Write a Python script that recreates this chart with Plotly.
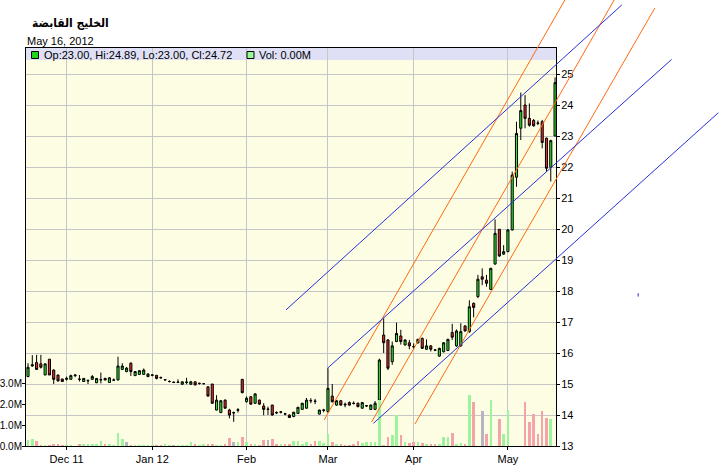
import plotly.graph_objects as go

# ---------------- data ----------------
title_text = "الخليج القابضة"
date_text = "May 16, 2012"
legend_price = "Op:23.00, Hi:24.89, Lo:23.00, Cl:24.72"
legend_vol = "Vol: 0.00M"

opens = [15.24, 15.58, 15.69, 15.65, 15.29, 15.80, 15.45, 15.29, 15.16, 15.15,
         15.15, 15.27, 15.16, 15.08, 15.10, 15.15, 15.04, 15.13, 15.18, 15.05,
         15.12, 15.13, 15.47, 15.40, 15.67, 15.27, 15.31, 15.31, 15.24, 15.28,
         15.28, 15.21, 15.13, 15.08, 15.06, 15.05, 14.99, 15.05, 14.99, 15.07,
         15.02, 15.01, 14.91, 15.00, 14.16, 14.08, 14.48, 14.16, 14.08, 14.15,
         15.15, 14.43, 14.59, 14.38, 14.48, 14.29, 14.18, 14.32, 14.08, 14.09,
         14.04, 14.00, 13.95, 14.05, 14.18, 14.22, 14.47, 14.45, 14.03, 14.15,
         14.11, 14.61, 14.32, 14.46, 14.35, 14.40, 14.38, 14.38, 14.22, 14.29,
         14.18, 14.18, 14.48, 16.58, 16.42, 15.72, 16.37, 16.55, 16.26, 16.33,
         16.21, 16.33, 16.47, 16.12, 16.23, 16.10, 15.90, 16.04, 16.08, 16.66,
         16.23, 16.23, 16.87, 16.69, 17.60, 17.82, 18.46, 18.35, 18.05, 18.87,
         19.99, 19.19, 19.27, 19.97, 21.67, 23.25, 24.00, 23.57, 23.50, 23.42,
         23.46, 22.93, 21.99, 23.00]
highs = [15.67, 15.93, 15.94, 15.94, 15.66, 15.80, 15.47, 15.30, 15.17, 15.24,
         15.30, 15.30, 15.29, 15.19, 15.15, 15.29, 15.19, 15.37, 15.20, 15.22,
         15.18, 15.88, 15.67, 15.55, 15.70, 15.41, 15.44, 15.50, 15.35, 15.32,
         15.29, 15.24, 15.16, 15.12, 15.08, 15.15, 15.08, 15.20, 15.10, 15.08,
         15.04, 15.03, 14.92, 15.00, 14.64, 14.48, 14.50, 14.20, 14.11, 14.22,
         15.16, 14.60, 14.60, 14.70, 14.50, 14.38, 14.27, 14.33, 14.12, 14.13,
         14.07, 14.02, 14.10, 14.26, 14.39, 14.55, 14.54, 14.52, 14.17, 14.20,
         15.51, 15.00, 14.48, 14.48, 14.40, 14.44, 14.44, 14.40, 14.42, 14.32,
         14.34, 14.45, 15.82, 17.12, 16.45, 16.37, 16.98, 16.75, 16.44, 16.42,
         16.31, 16.46, 16.50, 16.44, 16.25, 16.13, 16.17, 16.35, 16.46, 16.94,
         16.76, 16.96, 16.90, 17.70, 17.63, 18.52, 18.73, 18.52, 18.75, 20.31,
         20.00, 19.48, 20.00, 21.85, 23.46, 24.40, 24.32, 24.05, 23.55, 23.50,
         23.52, 22.95, 22.88, 24.89]
lows = [15.22, 15.56, 15.47, 15.50, 15.29, 15.29, 15.00, 15.08, 15.07, 15.11,
        15.14, 15.22, 15.08, 15.07, 15.00, 15.13, 15.03, 15.02, 15.12, 15.04,
        15.10, 15.12, 15.45, 15.38, 15.26, 15.26, 15.30, 15.30, 15.22, 15.25,
        15.15, 15.18, 15.11, 15.05, 15.03, 15.03, 14.98, 14.99, 14.98, 14.96,
        14.98, 14.99, 14.60, 14.36, 14.15, 14.06, 14.20, 13.89, 13.78, 14.08,
        14.70, 14.40, 14.33, 14.36, 14.33, 13.99, 14.00, 13.98, 14.03, 14.05,
        13.99, 13.90, 13.93, 14.04, 14.17, 14.20, 14.38, 14.35, 14.02, 14.09,
        14.08, 14.40, 14.30, 14.30, 14.25, 14.30, 14.34, 14.25, 14.20, 14.26,
        14.16, 14.16, 14.45, 16.00, 15.45, 15.62, 16.35, 16.27, 16.24, 16.12,
        16.12, 16.30, 16.13, 16.10, 16.05, 16.06, 15.88, 16.02, 16.06, 16.42,
        16.20, 16.20, 16.69, 16.65, 17.15, 17.77, 18.19, 18.14, 18.03, 18.85,
        19.10, 19.16, 19.25, 19.95, 21.36, 22.87, 23.25, 23.30, 23.30, 23.35,
        22.60, 21.85, 21.53, 23.00]
closes = [15.54, 15.62, 15.47, 15.54, 15.65, 15.29, 15.15, 15.10, 15.08, 15.18,
          15.27, 15.29, 15.15, 15.18, 15.11, 15.24, 15.18, 15.14, 15.13, 15.20,
          15.13, 15.58, 15.58, 15.51, 15.40, 15.40, 15.43, 15.45, 15.32, 15.29,
          15.18, 15.20, 15.14, 15.08, 15.05, 15.06, 15.07, 15.06, 15.07, 14.97,
          15.02, 15.01, 14.61, 14.38, 14.48, 14.46, 14.22, 14.00, 14.07, 14.17,
          14.72, 14.54, 14.35, 14.68, 14.35, 14.18, 14.19, 14.00, 14.07, 14.10,
          14.03, 13.92, 14.09, 14.25, 14.38, 14.48, 14.46, 14.44, 14.16, 14.16,
          14.86, 14.43, 14.46, 14.32, 14.33, 14.32, 14.37, 14.27, 14.40, 14.30,
          14.32, 14.38, 15.77, 16.33, 15.51, 16.23, 16.63, 16.37, 16.42, 16.23,
          16.20, 16.44, 16.15, 16.23, 16.12, 16.09, 16.15, 16.33, 16.44, 16.51,
          16.71, 16.69, 16.71, 17.49, 17.47, 18.38, 18.38, 18.25, 18.73, 19.86,
          19.13, 19.27, 19.97, 21.74, 23.08, 23.82, 23.57, 23.35, 23.33, 23.41,
          22.79, 21.96, 22.85, 24.72]
volumes_m = [0.27, 0.32, 0.24, 0.05, 0.03, 0.03, 0.08, 0.08, 0.05, 0.05,
             0.05, 0.02, 0.08, 0.10, 0.10, 0.11, 0.11, 0.24, 0.10, 0.10,
             0.05, 0.63, 0.35, 0.19, 0.05, 0.03, 0.03, 0.03, 0.03, 0.05,
             0.05, 0.05, 0.08, 0.05, 0.05, 0.05, 0.05, 0.03, 0.19, 0.08,
             0.05, 0.08, 0.11, 0.08, 0.05, 0.03, 0.08, 0.40, 0.20, 0.19,
             0.45, 0.19, 0.08, 0.08, 0.05, 0.30, 0.27, 0.36, 0.08, 0.08,
             0.08, 0.11, 0.23, 0.23, 0.11, 0.19, 0.11, 0.26, 0.26, 0.16,
             0.58, 0.19, 0.08, 0.08, 0.05, 0.05, 0.08, 0.23, 0.13, 0.20,
             0.20, 0.20, 2.22, 0.05, 0.45, 0.53, 1.50, 0.53, 0.20, 0.16,
             0.20, 0.20, 0.16, 0.12, 0.12, 0.10, 0.12, 0.45, 0.45, 0.64,
             0.12, 0.16, 0.12, 2.46, 2.14, 0.00, 1.70, 0.58, 2.22, 0.00,
             1.30, 0.60, 1.74, 0.00, 0.00, 0.00, 2.14, 1.14, 1.55, 0.58,
             1.70, 1.37, 1.30, 0.00]
flat_volume_days = [24, 35, 49, 57, 107]   # 1-based, grey volume bars

month_pos = [9, 29, 51, 70, 90, 112]
month_labels = ["Dec 11", "Jan 12", "Feb", "Mar", "Apr", "May"]
price_ticks = list(range(13, 26))
vol_ticks = [0, 1, 2, 3]
vol_tick_labels = ["0.0M", "1.0M", "2.0M", "3.0M"]

# trend lines: (index, price) endpoints
blue_lines = [((60.2, 17.39), (138.6, 27.23)),
              ((69.9, 15.51), (150.2, 25.47)),
              ((80.6, 13.73), (161.1, 23.75)),
              ((142.4, 17.93), (142.4, 17.82))]
orange_lines = [((69.1, 13.84), (125.3, 27.39)),
                ((80.2, 13.78), (136.8, 27.39)),
                ((90.3, 13.71), (146.3, 27.13))]

# ---------------- layout geometry ----------------
W, H = 726, 475
PL, PR, PT, PB = 26, 556, 48, 446          # plot frame in pixels
x_range = [-0.47, 123.22]
y_range = [13, 13 + (PB - PT) / 31.0]
vol_range = [0, (PB - PT) / 20.7]

sx = (x_range[1] - x_range[0]) / (PR - PL)
sy = (y_range[1] - y_range[0]) / (PB - PT)
x2_range = [x_range[0] - PL * sx, x_range[1] + (W - PR) * sx]
y2_range = [y_range[0] - (H - PB) * sy, y_range[1] + PT * sy]

n = len(opens)
xs = list(range(n))

GREEN = "#2ee82e"
RED = "#e82c2c"
VG, VR, VN = "#9cf59c", "#f5a3aa", "#b6b6c0"
vol_colors = []
for i in range(n):
    if (i + 1) in flat_volume_days:
        vol_colors.append(VN)
    elif closes[i] >= opens[i]:
        vol_colors.append(VG)
    else:
        vol_colors.append(VR)

FONT = "Liberation Sans, Arial, sans-serif"

fig = go.Figure()

fig.add_trace(go.Bar(x=xs, y=volumes_m, yaxis="y3", xaxis="x",
                     marker=dict(color=vol_colors, line=dict(width=0)),
                     width=0.6, showlegend=False, hoverinfo="skip"))

fig.add_trace(go.Candlestick(
    x=xs, open=opens, high=highs, low=lows, close=closes,
    xaxis="x", yaxis="y",
    increasing=dict(fillcolor=GREEN, line=dict(color="black", width=1)),
    decreasing=dict(fillcolor=RED, line=dict(color="black", width=1)),
    whiskerwidth=0, showlegend=False))

def seg_trace(lines, color):
    lx, ly = [], []
    for (a, b) in lines:
        lx += [a[0], b[0], None]
        ly += [a[1], b[1], None]
    return go.Scatter(x=lx, y=ly, mode="lines", xaxis="x2", yaxis="y2",
                      line=dict(color=color, width=1), showlegend=False,
                      hoverinfo="skip")

fig.add_trace(seg_trace(orange_lines, "#ff6a10"))
fig.add_trace(seg_trace(blue_lines, "#2830d8"))

xdom = [PL / W, PR / W]
ydom = [(H - PB) / H, (H - PT) / H]

fig.update_layout(
    width=W, height=H, autosize=False,
    margin=dict(l=0, r=0, t=0, b=0, pad=0, autoexpand=False),
    paper_bgcolor="white", plot_bgcolor="rgba(0,0,0,0)",
    font=dict(family=FONT, size=11, color="black"),
    bargap=0, boxgap=0.3,
    xaxis=dict(domain=xdom, range=x_range, anchor="y", automargin=False,
               tickmode="array", tickvals=month_pos, ticktext=month_labels,
               showgrid=True, gridcolor="#c6c6c6", gridwidth=1,
               zeroline=False, showline=True, linecolor="black", linewidth=1,
               mirror=True, ticks="outside", ticklen=3, tickcolor="black",
               rangeslider=dict(visible=False), fixedrange=True,
               tickfont=dict(family=FONT, size=11)),
    yaxis=dict(domain=ydom, range=y_range, anchor="x", side="right",
               automargin=False, ticklabelstandoff=-1,
               tickmode="array", tickvals=price_ticks,
               showgrid=True, gridcolor="#c6c6c6", gridwidth=1,
               zeroline=False, showline=True, linecolor="black", linewidth=1,
               mirror=True, ticks="outside", ticklen=3, tickcolor="black",
               tickfont=dict(family=FONT, size=11)),
    yaxis3=dict(overlaying="y", side="left", range=vol_range, anchor="x",
                automargin=False, ticklabelstandoff=-2,
                tickmode="array", tickvals=vol_ticks, ticktext=vol_tick_labels,
                showgrid=False, zeroline=False, showline=False,
                ticks="outside", ticklen=3, tickcolor="black",
                tickfont=dict(family=FONT, size=10)),
    xaxis2=dict(domain=[0, 1], range=x2_range, anchor="y2", visible=False,
                fixedrange=True, automargin=False),
    yaxis2=dict(domain=[0, 1], range=y2_range, anchor="x2", visible=False,
                fixedrange=True, automargin=False),
)

def px_x(p):
    return p / W

def px_y(p):
    return 1 - p / H

shapes = [
    dict(type="rect", xref="x domain", yref="y domain", x0=0, x1=1, y0=0, y1=1,
         fillcolor="#fdfde3", line=dict(width=0), layer="below"),
    dict(type="rect", xref="paper", yref="paper",
         x0=px_x(PL), x1=px_x(PR), y0=px_y(60), y1=px_y(PT),
         fillcolor="#dfe0f6", line=dict(width=0), layer="between"),
    dict(type="rect", xref="paper", yref="paper",
         x0=px_x(31.5), x1=px_x(38.5), y0=px_y(58.5), y1=px_y(51.5),
         fillcolor="#1ed81e", line=dict(color="black", width=1), layer="above"),
    dict(type="rect", xref="paper", yref="paper",
         x0=px_x(247), x1=px_x(254), y0=px_y(58.5), y1=px_y(51.5),
         fillcolor="#98f898", line=dict(color="black", width=1), layer="above"),
]
fig.update_layout(shapes=shapes)

annotations = [
    dict(text="<b>" + title_text + "</b>", xref="paper", yref="paper",
         x=px_x(30), y=px_y(23),
         xanchor="left", yanchor="middle", showarrow=False,
         font=dict(family="DejaVu Sans Condensed, DejaVu Sans, sans-serif",
                   size=12, color="black")),
    dict(text=date_text, xref="paper", yref="paper", x=px_x(25), y=px_y(41),
         xanchor="left", yanchor="middle", showarrow=False,
         font=dict(family=FONT, size=11, color="black")),
    dict(text=legend_price, xref="paper", yref="paper", x=px_x(42), y=px_y(55),
         xanchor="left", yanchor="middle", showarrow=False,
         font=dict(family=FONT, size=11, color="black")),
    dict(text=legend_vol, xref="paper", yref="paper", x=px_x(257), y=px_y(55),
         xanchor="left", yanchor="middle", showarrow=False,
         font=dict(family=FONT, size=11, color="black")),
]
fig.update_layout(annotations=annotations)

fig.write_html("out.html",
               config=dict(displayModeBar=False, staticPlot=True),
               post_script="document.body.style.margin='0px';"
                           "document.body.style.overflow='hidden';")
